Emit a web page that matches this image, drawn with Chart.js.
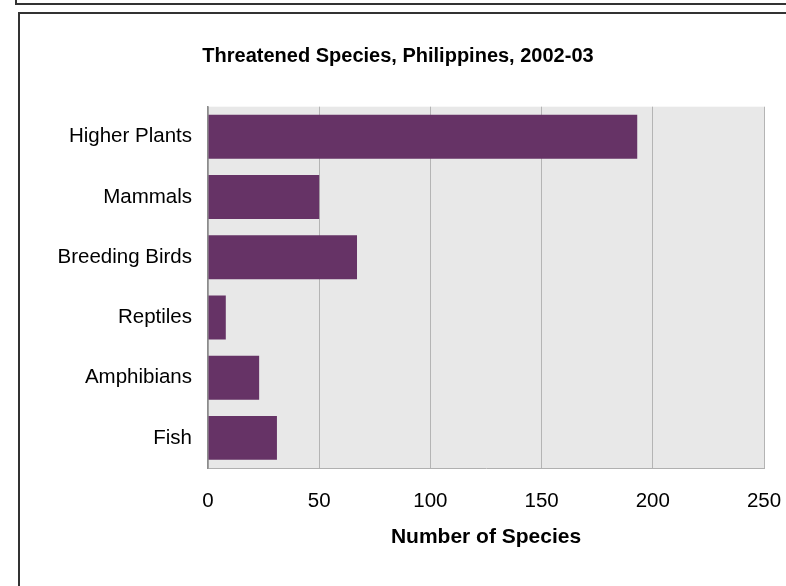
<!DOCTYPE html>
<html>
<head>
<meta charset="utf-8">
<script src="https://cdn.jsdelivr.net/npm/chart.js@4.4.1/dist/chart.umd.min.js"></script>
<style>
    html, body { margin: 0; padding: 0; background: #fff; overflow: hidden; }
    body { width: 786px; height: 586px; position: relative; }
    .frame { position: absolute; border: 0 solid #333; }
    #outer { left: 15px; top: -20px; width: 900px; height: 23px; border-left-width: 2px; border-bottom-width: 2px; }
    #inner { left: 18px; top: 12px; width: 900px; height: 900px; border-left-width: 2px; border-top-width: 2px; }
    #chart { position: absolute; left: 0; top: 0; }
</style>
</head>
<body>
<div class="frame" id="outer"></div>
<div class="frame" id="inner"></div>
<canvas id="chart" width="786" height="586"></canvas>
<script>
// values
const categories = ['Higher Plants', 'Mammals', 'Breeding Birds', 'Reptiles', 'Amphibians', 'Fish'];
const speciesCounts = [193, 50, 67, 8, 23, 31];
const xTickValues = [0, 50, 100, 150, 200, 250];

const chartTitle = 'Threatened Species, Philippines, 2002-03';
const xTitle = 'Number of Species';

const FONT = '"Liberation Sans", Arial, Helvetica, sans-serif';

// grey plot background
const plotBackground = {
    id: 'plotBackground',
    beforeDraw(chart) {
        const {ctx, chartArea: a} = chart;
        ctx.save();
        ctx.fillStyle = '#e8e8e8';
        ctx.fillRect(a.left, a.top, a.right - a.left, a.bottom - a.top);
        ctx.restore();
    }
};

window.onload = () => {
    const context = document.getElementById('chart').getContext('2d');
    new Chart(context, {
        type: 'bar',
        data: {
            labels: categories,
            datasets: [{
                data: speciesCounts,
                backgroundColor: '#663366',
                categoryPercentage: 1,
                barPercentage: 0.73
            }]
        },
        options: {
            indexAxis: 'y',
            responsive: false,
            animation: false,
            layout: { padding: { left: 32, right: 22, top: 44, bottom: 0 } },
            plugins: {
                legend: { display: false },
                tooltip: { enabled: false },
                title: {
                    display: true,
                    text: chartTitle,
                    color: '#000',
                    font: { family: FONT, size: 20, weight: 'bold' },
                    padding: { top: 0, bottom: 38.7 }
                }
            },
            scales: {
                x: {
                    min: 0,
                    max: 250,
                    afterBuildTicks: (scale) => {
                        scale.ticks = xTickValues.map(v => ({ value: v }));
                    },
                    afterFit: (scale) => {
                        scale.height = 118;
                        // the "250" label may run into the right margin
                        scale.paddingLeft = 0;
                        scale.paddingRight = 0;
                    },
                    grid: { color: '#b4b4b4', drawTicks: false },
                    border: { color: '#b0b0b0', width: 1 },
                    ticks: {
                        color: '#000',
                        padding: 21,
                        font: { family: FONT, size: 20.5 }
                    },
                    title: {
                        display: true,
                        text: xTitle,
                        color: '#000',
                        font: { family: FONT, size: 21, weight: 'bold' },
                        padding: { top: 0, bottom: 36.5 }
                    }
                },
                y: {
                    afterFit: (scale) => { scale.width = 176; },
                    grid: { display: false, drawTicks: false },
                    border: { color: '#8c8c8c', width: 1.5 },
                    ticks: {
                        color: '#000',
                        padding: 16,
                        font: { family: FONT, size: 20.5 }
                    }
                }
            }
        },
        plugins: [plotBackground]
    });
};
</script>
</body>
</html>
